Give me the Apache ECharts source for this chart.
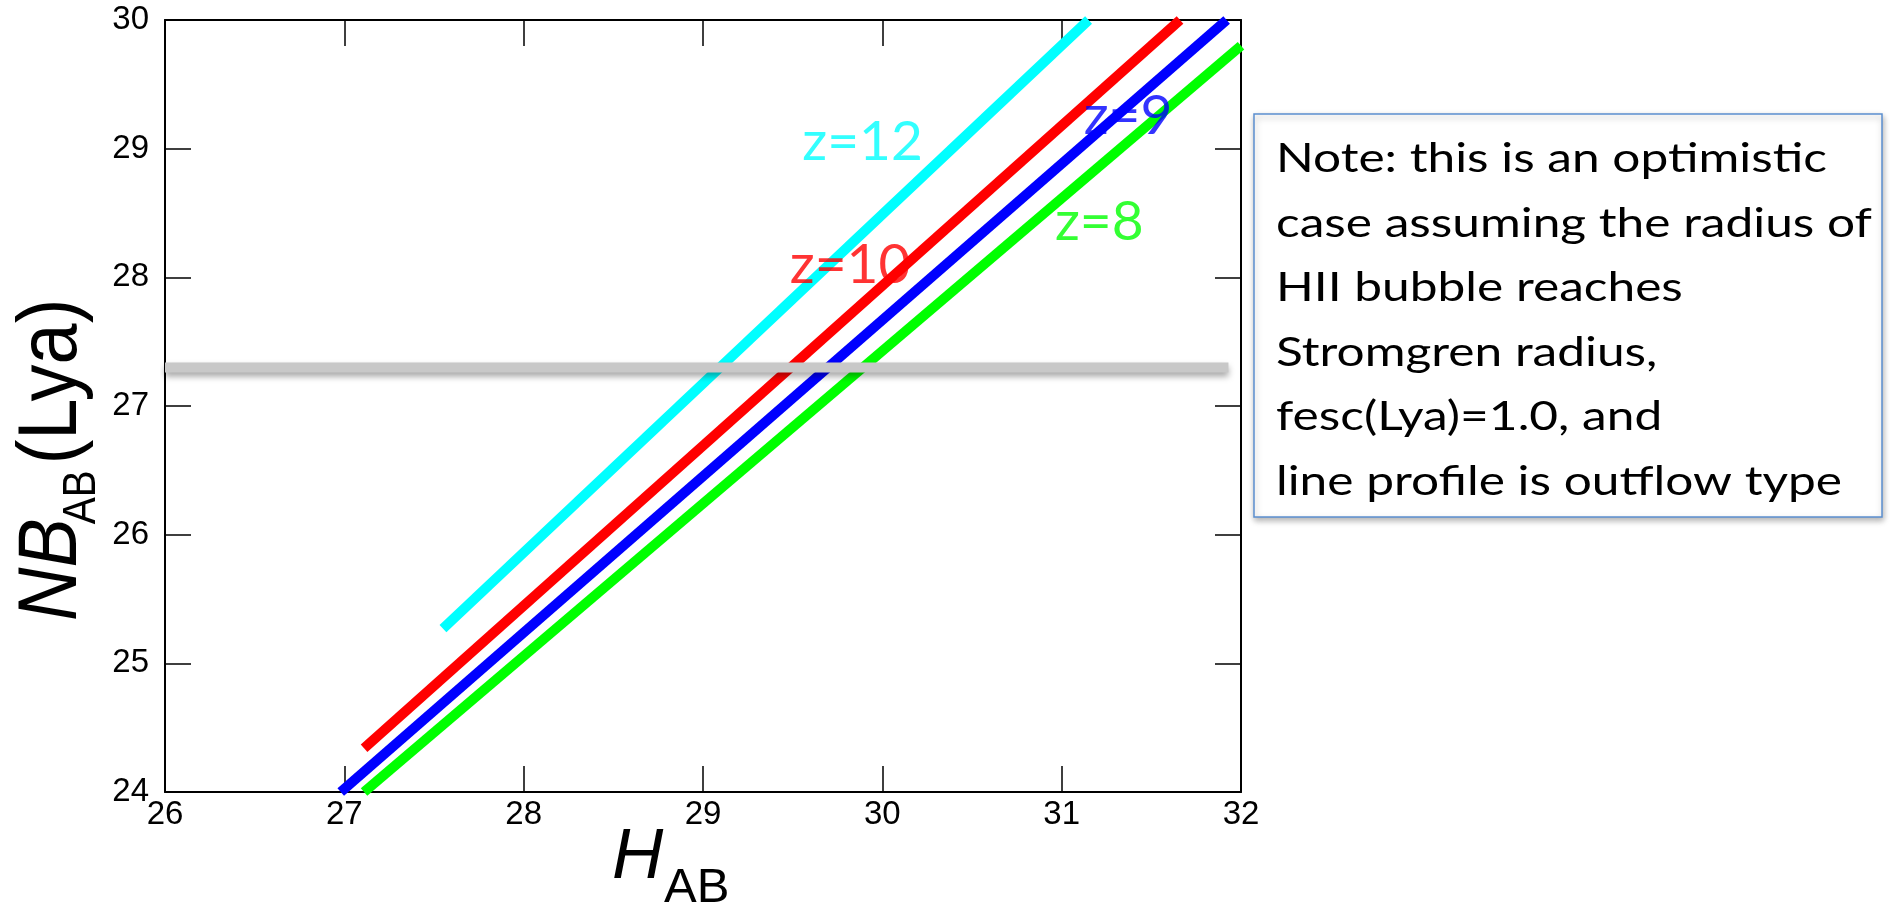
<!DOCTYPE html>
<html>
<head>
<meta charset="utf-8">
<script src="https://cdn.jsdelivr.net/npm/echarts@6/dist/echarts.min.js"></script>
<style>
html,body{margin:0;padding:0;background:#fff;}
#chart{width:1890px;height:907px;}
</style>
</head>
<body>
<div id="chart"></div>
<script>
// ---- data ----
const xTicks = [26, 27, 28, 29, 30, 31, 32];
const yTicks = [24, 25, 26, 27, 28, 29, 30];
const seriesNames = ['z=12', 'z=10', 'z=9', 'z=8'];
const lineZ12 = [[27.55, 25.27], [31.15, 30.0]];
const lineZ10 = [[27.11, 24.34], [31.66, 30.0]];
const lineZ9  = [[26.98, 24.0], [31.92, 30.0]];
const lineZ8  = [[27.11, 24.0], [32.0, 29.8]];
const limitLine = [[26.0, 27.3], [31.93, 27.3]];
const labelAnchors = [[29.89, 29.05], [29.82, 28.09], [31.37, 29.25], [31.21, 28.43]];
const noteLines = [
  'Note: this is an optimistic',
  'case assuming the radius of',
  'HII bubble reaches',
  'Stromgren radius,',
  'fesc(Lya)=1.0, and',
  'line profile is outflow type'
];

const colors = ['#00ffff', '#ff0000', '#0000ff', '#00ff00'];
const lines = [lineZ12, lineZ10, lineZ9, lineZ8];
const tickFont = '"Liberation Sans", Arial, Helvetica, sans-serif';
const labelFont = 'Lato, "Open Sans", sans-serif';

const chart = echarts.init(document.getElementById('chart'), null, {renderer: 'canvas'});

function axisCommon(showLabel) {
  return {
    type: 'value', min: xTicks[0], max: xTicks[xTicks.length - 1], interval: 1,
    axisLine: {show: true, onZero: false, lineStyle: {color: '#000', width: 2}},
    axisTick: {show: true, inside: true, length: 26, lineStyle: {color: '#000', width: 1.5}},
    splitLine: {show: false},
    axisLabel: {show: showLabel, color: '#000', fontSize: 33, fontFamily: tickFont}
  };
}

const xBottom = Object.assign(axisCommon(true), {position: 'bottom'});
xBottom.axisLabel.margin = 6;
const xTop = Object.assign(axisCommon(false), {position: 'top'});
const yLeft = Object.assign(axisCommon(true), {position: 'left', min: yTicks[0], max: yTicks[yTicks.length - 1]});
yLeft.axisLabel.margin = 16;
const yRight = Object.assign(axisCommon(false), {position: 'right', min: yTicks[0], max: yTicks[yTicks.length - 1]});

const series = lines.map((d, i) => ({
  type: 'line', name: seriesNames[i], data: d, symbol: 'none', clip: true,
  lineStyle: {color: colors[i], width: 10, cap: 'butt'}, z: 2
}));
series.push({
  type: 'line', name: 'limit', data: limitLine, symbol: 'none', clip: false,
  lineStyle: {color: '#c8c8c8', width: 10, shadowColor: 'rgba(0,0,0,0.35)', shadowBlur: 6, shadowOffsetY: 4},
  z: 3
});
series.push({
  type: 'scatter', name: 'labels', symbolSize: 0, z: 5,
  data: labelAnchors.map((p, i) => ({
    value: p, name: seriesNames[i],
    label: {show: true, position: 'inside', formatter: seriesNames[i], color: colors[i],
            fontSize: 55, fontFamily: labelFont}
  }))
});

const yTitleScale = 0.88;
chart.setOption({
  animation: false,
  grid: {left: 165, top: 20, right: 649, bottom: 115, containLabel: false},
  xAxis: [xBottom, xTop],
  yAxis: [yLeft, yRight],
  series: series,
  graphic: [
    // x axis title
    {type: 'text', x: 612, y: 858,
     style: {text: 'H', font: 'italic 71px ' + tickFont, fill: '#000', verticalAlign: 'middle', align: 'left'}},
    {type: 'text', x: 664, y: 888,
     style: {text: 'AB', font: '49px ' + tickFont, fill: '#000', verticalAlign: 'middle', align: 'left'}},
    // y axis title (rotated)
    {type: 'group', x: 53, y: 621, rotation: Math.PI / 2, scaleX: yTitleScale,
     children: [
       {type: 'text', x: 0, y: 0,
        style: {text: 'NB', font: 'italic 84px ' + tickFont, fill: '#000', verticalAlign: 'middle', align: 'left'}},
       {type: 'text', x: 110, y: 29,
        style: {text: 'AB', font: '46px ' + tickFont, fill: '#000', verticalAlign: 'middle', align: 'left'}},
       {type: 'text', x: 178, y: 0,
        style: {text: '(Lya)', font: '84px ' + tickFont, fill: '#000', verticalAlign: 'middle', align: 'left'}}
     ]},
    // note box
    {type: 'rect', x: 1254, y: 114, z: 10,
     shape: {width: 628, height: 403},
     style: {fill: '#fff', stroke: '#5b8fcf', lineWidth: 1.5,
             shadowColor: 'rgba(0,0,0,0.3)', shadowBlur: 6, shadowOffsetX: 1, shadowOffsetY: 3}},
    {type: 'text', x: 1276, y: 127, z: 11, scaleX: 1.24,
     style: {text: noteLines.join('\n'), font: '40px ' + labelFont, fill: '#000',
             lineHeight: 64.5, verticalAlign: 'top', align: 'left'}}
  ]
});
</script>
</body>
</html>
